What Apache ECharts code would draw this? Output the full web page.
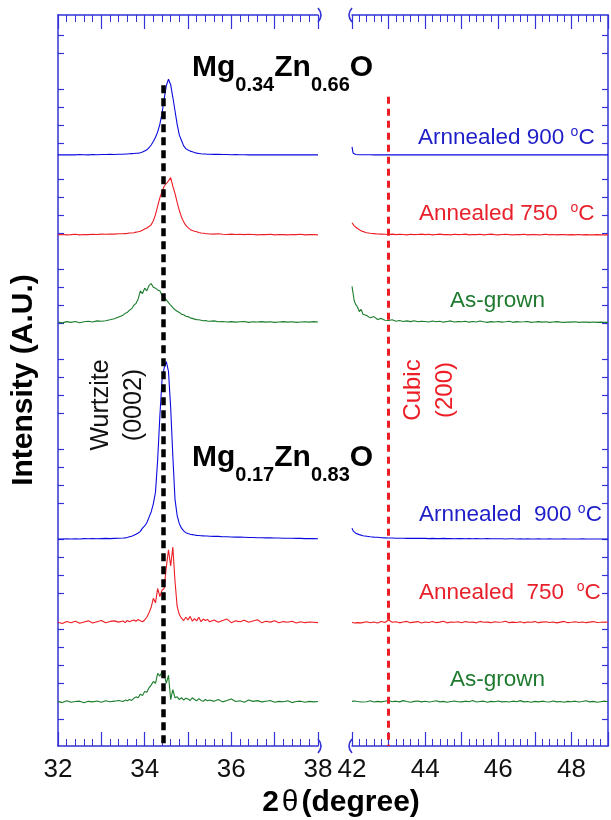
<!DOCTYPE html>
<html>
<head>
<meta charset="utf-8">
<script src="https://cdn.jsdelivr.net/npm/echarts@6/dist/echarts.min.js"></script>
<style>html,body{margin:0;padding:0;background:#fff;}#c{width:611px;height:820px;}</style>
</head>
<body>
<div id="c"></div>
<script>
// ---------- DATA ----------
// 2θ sampling (degrees), left panel 32–38
const thetaLeft = [
  32.0,32.1,32.2,32.3,32.4,32.5,32.6,32.7,32.8,32.9,33.0,33.1,33.2,33.3,33.4,
  33.5,33.55,33.6,33.65,33.7,33.75,33.8,33.85,33.9,33.95,34.0,34.05,34.1,34.15,34.2,34.25,34.3,34.35,34.4,34.45,
  34.5,34.55,34.6,34.65,34.7,34.75,34.8,34.85,34.9,34.95,35.0,35.05,35.1,35.15,35.2,35.25,35.3,35.35,35.4,35.45,
  35.5,35.6,35.7,35.8,35.9,36.0,36.1,36.2,36.3,36.4,36.5,36.6,36.7,36.8,36.9,37.0,37.1,37.2,37.3,37.4,37.5,37.6,37.7,37.8,37.9,38.0
];
// 2θ sampling (degrees), right panel 42–49
const thetaRight = [
  42.0,42.03,42.06,42.1,42.15,42.2,42.25,42.3,
  42.4,42.5,42.6,42.7,42.8,42.9,
  43.0,43.1,43.2,43.3,43.4,43.5,43.6,43.7,43.8,43.9,
  44.0,44.1,44.2,44.3,44.4,44.5,44.6,44.7,44.8,44.9,
  45.0,45.1,45.2,45.3,45.4,45.5,45.6,45.7,45.8,45.9,
  46.0,46.1,46.2,46.3,46.4,46.5,46.6,46.7,46.8,46.9,
  47.0,47.1,47.2,47.3,47.4,47.5,47.6,47.7,47.8,47.9,
  48.0,48.1,48.2,48.3,48.4,48.5,48.6,48.7,48.8,48.9,
  49.0
];

// Intensities (A.U.) above each trace's own baseline
// Mg0.34Zn0.66O, annealed 900 °C
const mg34_900_left = [
  0.0,0.01,0.0,0.01,0.0,0.02,0.01,0.0,0.02,0.01,0.02,0.02,0.03,0.02,0.04,
  0.04,0.05,0.05,0.06,0.07,0.08,0.09,0.10,0.12,0.16,0.22,0.28,0.40,0.55,0.74,0.98,1.28,1.70,2.30,3.10,
  3.85,4.20,3.90,3.20,2.45,1.70,1.10,0.80,0.50,0.35,0.27,0.21,0.17,0.13,0.10,0.08,0.06,0.05,0.05,0.04,
  0.04,0.03,0.03,0.02,0.02,0.01,0.02,0.01,0.01,0.0,0.01,0.0,0.01,0.0,0.0,0.01,0.0,0.0,0.01,0.0,0.0,0.0,0.01,0.0,0.0,0.0
];
const mg34_900_right = [
  0.45,0.10,0.04,0.02,0.02,0.01,0.01,0.01,
  0.01,0.01,0.0,0.01,0.0,0.01,
  0.0,0.01,0.0,0.0,0.01,0.0,0.0,0.01,0.0,0.0,
  0.0,0.0,0.01,0.0,0.0,0.0,0.01,0.0,0.0,0.0,
  0.01,0.0,0.0,0.0,0.0,0.01,0.0,0.0,0.0,0.0,
  0.0,0.01,0.0,0.0,0.0,0.0,0.0,0.01,0.0,0.0,
  0.0,0.0,0.0,0.01,0.0,0.0,0.0,0.0,0.0,0.01,
  0.0,0.0,0.0,0.0,0.01,0.0,0.0,0.0,0.0,0.0,
  0.0
];
// Mg0.34Zn0.66O, annealed 750 °C
const mg34_750_left = [
  0.0,0.02,0.0,0.01,0.03,0.0,0.02,0.01,0.03,0.02,0.04,0.03,0.05,0.04,0.06,
  0.06,0.07,0.08,0.10,0.10,0.12,0.15,0.17,0.20,0.26,0.32,0.38,0.46,0.56,0.78,1.12,1.60,2.05,2.40,2.70,
  2.85,3.00,3.18,2.70,2.30,1.80,1.35,0.98,0.72,0.52,0.40,0.30,0.24,0.20,0.17,0.13,0.10,0.09,0.07,0.06,
  0.05,0.04,0.06,0.03,0.02,0.04,0.02,0.03,0.01,0.03,0.02,0.0,0.02,0.01,0.03,0.0,0.02,0.01,0.0,0.02,0.01,0.03,0.0,0.01,0.02,0.0
];
const mg34_750_right = [
  0.67,0.58,0.50,0.42,0.35,0.28,0.22,0.18,
  0.12,0.09,0.07,0.05,0.04,0.03,
  0.02,0.04,0.01,0.03,0.02,0.0,0.03,0.01,0.02,0.04,
  0.01,0.03,0.0,0.02,0.04,0.01,0.02,0.0,0.03,0.01,
  0.02,0.04,0.0,0.02,0.01,0.03,0.0,0.02,0.04,0.01,
  0.0,0.02,0.03,0.01,0.0,0.02,0.01,0.03,0.0,0.01,
  0.02,0.0,0.01,0.03,0.0,0.02,0.0,0.01,0.02,0.0,
  0.01,0.0,0.02,0.0,0.01,0.0,0.0,0.01,0.0,0.0,
  0.0
];
// Mg0.34Zn0.66O, as-grown
const mg34_asg_left = [
  0.02,-0.03,0.04,0.0,0.05,-0.02,0.03,0.06,0.02,0.08,0.06,0.09,0.14,0.20,0.30,
  0.40,0.50,0.55,0.68,0.75,0.95,1.05,1.30,1.75,1.60,1.90,1.75,2.05,2.15,1.95,1.90,1.80,1.75,1.50,1.38,
  1.25,1.10,0.95,0.82,0.70,0.62,0.55,0.45,0.42,0.34,0.32,0.25,0.22,0.18,0.15,0.14,0.12,0.09,0.10,0.07,
  0.06,0.08,0.03,0.05,0.02,0.04,0.01,0.03,0.05,0.0,0.03,0.02,0.04,0.01,0.03,0.0,0.02,0.04,0.01,0.03,0.0,0.02,0.03,0.01,0.04,0.02
];
const mg34_asg_right = [
  2.00,1.60,1.20,1.00,0.85,0.60,0.72,0.45,
  0.38,0.25,0.32,0.16,0.22,0.12,
  0.10,0.14,0.06,0.10,0.05,0.08,0.04,0.09,0.03,0.06,
  0.05,0.02,0.07,0.03,0.06,0.01,0.05,0.08,0.02,0.04,
  0.03,0.06,0.01,0.05,0.02,0.07,0.03,0.0,0.04,0.02,
  0.05,0.01,0.03,0.06,0.0,0.04,0.02,0.03,0.05,0.0,
  0.02,0.04,0.01,0.03,0.0,0.02,0.04,0.01,0.0,0.02,
  0.01,0.03,0.0,0.02,0.01,0.0,0.02,0.0,0.01,0.0,
  0.0
];
// Mg0.17Zn0.83O, annealed 900 °C
const mg17_900_left = [
  0.0,0.0,0.01,0.0,0.01,0.0,0.02,0.01,0.02,0.01,0.02,0.03,0.02,0.03,0.04,
  0.05,0.06,0.08,0.12,0.15,0.20,0.26,0.33,0.42,0.60,0.72,0.90,1.20,1.50,1.95,2.60,4.40,6.80,8.80,9.50,
  9.85,9.30,7.30,4.60,2.20,1.30,0.85,0.60,0.45,0.35,0.30,0.26,0.24,0.22,0.20,0.19,0.18,0.17,0.16,0.16,
  0.15,0.14,0.14,0.12,0.12,0.11,0.10,0.10,0.09,0.08,0.08,0.07,0.07,0.06,0.06,0.05,0.05,0.04,0.04,0.04,0.03,0.03,0.02,0.02,0.02,0.01
];
const mg17_900_right = [
  0.60,0.45,0.38,0.32,0.28,0.24,0.20,0.18,
  0.15,0.12,0.10,0.09,0.07,0.06,
  0.05,0.05,0.04,0.04,0.04,0.03,0.04,0.03,0.03,0.03,
  0.03,0.02,0.03,0.02,0.02,0.03,0.02,0.02,0.01,0.02,
  0.02,0.01,0.02,0.01,0.02,0.01,0.01,0.02,0.01,0.01,
  0.01,0.01,0.0,0.01,0.01,0.0,0.01,0.0,0.01,0.0,
  0.0,0.01,0.0,0.0,0.01,0.0,0.0,0.0,0.01,0.0,
  0.0,0.0,0.0,0.01,0.0,0.0,0.0,0.0,0.0,0.0,
  0.0
];
// Mg0.17Zn0.83O, annealed 750 °C
const mg17_750_left = [
  0.02,-0.05,0.06,0.0,0.08,-0.03,0.04,0.10,-0.02,0.05,0.12,0.0,0.07,0.10,0.03,
  0.09,0.0,0.12,0.05,0.10,0.15,0.08,0.18,0.10,0.05,0.15,0.30,0.55,0.85,1.35,1.10,1.90,1.45,1.80,1.90,
  3.10,4.05,3.15,4.20,2.30,0.90,0.45,0.25,0.12,0.30,0.15,0.35,0.08,0.22,0.10,0.30,0.05,0.20,0.12,0.18,
  0.05,0.15,0.02,0.12,0.20,0.0,0.10,0.05,0.14,0.02,0.09,0.16,0.0,0.08,0.03,0.11,0.0,0.06,0.02,0.08,-0.02,0.05,0.0,0.04,0.02,0.0
];
const mg17_750_right = [
  0.02,0.05,-0.02,0.04,0.0,0.06,-0.01,0.03,
  0.05,0.0,0.04,-0.02,0.06,0.01,
  0.15,0.02,0.05,-0.01,0.04,0.07,0.0,0.03,0.06,-0.02,
  0.04,0.01,0.06,0.0,0.03,0.08,-0.01,0.04,0.02,0.05,
  0.0,0.06,0.02,0.04,-0.01,0.07,0.02,0.03,0.0,0.05,
  0.02,0.04,0.08,0.0,0.03,0.01,0.05,-0.01,0.04,0.02,
  0.06,0.0,0.03,0.05,0.01,0.04,-0.01,0.03,0.07,0.0,
  0.02,0.05,0.01,0.04,0.0,0.03,0.06,0.01,0.02,0.04,
  0.02
];
// Mg0.17Zn0.83O, as-grown
const mg17_asg_left = [
  0.05,-0.02,0.08,0.0,0.04,0.06,-0.03,0.05,0.02,0.07,0.0,0.08,0.03,0.06,0.10,
  0.04,0.12,0.08,0.15,0.10,0.22,0.30,0.25,0.45,0.38,0.60,0.55,0.80,0.95,1.15,1.05,1.60,1.45,1.70,1.55,
  1.05,1.50,0.15,0.70,0.25,0.30,0.15,0.25,0.12,0.22,0.18,0.10,0.25,0.15,0.08,0.20,0.10,0.05,0.15,0.08,
  0.12,0.05,0.15,0.02,0.10,0.18,0.04,0.08,0.0,0.12,0.05,0.09,0.02,0.06,0.10,0.0,0.05,0.03,0.08,-0.02,0.04,0.06,0.0,0.05,0.02,0.04
];
const mg17_asg_right = [
  0.05,0.02,0.07,0.0,0.04,0.06,0.01,0.05,
  0.03,0.08,0.01,0.05,0.02,0.06,
  0.10,0.03,0.06,0.02,0.09,0.04,0.0,0.05,0.07,0.02,
  0.06,0.01,0.04,0.08,0.02,0.05,0.0,0.04,0.07,0.03,
  0.02,0.06,0.03,0.10,0.01,0.04,0.06,0.0,0.05,0.03,
  0.07,0.02,0.04,0.01,0.06,0.03,0.09,0.02,0.04,0.0,
  0.05,0.02,0.06,0.03,0.01,0.07,0.02,0.04,0.0,0.05,
  0.03,0.06,0.01,0.04,0.08,0.02,0.05,0.0,0.03,0.06,
  0.03
];

// vertical stacking offsets (A.U.) for each trace, top to bottom
const traceOffsets = [32.33, 27.89, 23.03, 11.0, 6.35, 1.93];
const traceNames = ['Mg0.34 900', 'Mg0.34 750', 'Mg0.34 as-grown', 'Mg0.17 900', 'Mg0.17 750', 'Mg0.17 as-grown'];
const leftValues = [mg34_900_left, mg34_750_left, mg34_asg_left, mg17_900_left, mg17_750_left, mg17_asg_left];
const rightValues = [mg34_900_right, mg34_750_right, mg34_asg_right, mg17_900_right, mg17_750_right, mg17_asg_right];

// axis tick values
const yTickValues = [1,3,4,5,6,8,9,10,11,13,14,15,16,18,19,20,21,23,24,25,26,28,29,30,31,33,34,35,36,38,39];
const xLabelsShown = [32, 34, 36, 38, 42, 44, 46, 48];

// reference lines: [2θ, top of line (A.U.)]
const wurtziteLine = [34.42, 36.2];
const cubicLine = [43.0, 35.56];

// formula texts: [text, isSubscript]
const formulaTop = [['Mg', 0], ['0.34', 1], ['Zn', 0], ['0.66', 1], ['O', 0]];
const formulaBottom = [['Mg', 0], ['0.17', 1], ['Zn', 0], ['0.83', 1], ['O', 0]];

// ---------- CHART ----------
leftValues.forEach((a, i) => { if (a.length !== thetaLeft.length) throw new Error('left len ' + i + ' ' + a.length); });
rightValues.forEach((a, i) => { if (a.length !== thetaRight.length) throw new Error('right len ' + i + ' ' + a.length); });

const FONT = "'Liberation Sans', Arial, Helvetica, sans-serif";
const AXIS = '#3333d6';
const traceColors = ['#0a0ae0', '#ee1c24', '#1b7d2b', '#0a0ae0', '#ee1c24', '#1b7d2b'];
const YMIN = -0.5, YMAX = 40.1;

function xAxisDef(gridIndex, pos, min, max, labels) {
  return {
    type: 'value', gridIndex, position: pos, min, max, interval: 1,
    axisLine: { show: true, onZero: false, lineStyle: { color: AXIS, width: 1.5 } },
    axisTick: { show: true, inside: true, length: 14, lineStyle: { color: AXIS, width: 1.2 } },
    minorTick: { show: true, splitNumber: 5, length: 7, lineStyle: { color: AXIS, width: 1 } },
    splitLine: { show: false }, minorSplitLine: { show: false },
    axisLabel: labels ? {
      show: true, margin: 11, fontSize: 26, fontFamily: FONT, color: '#111',
      formatter: v => xLabelsShown.includes(v) ? String(v) : ''
    } : { show: false }
  };
}
function yAxisDef(gridIndex, pos) {
  return {
    type: 'value', gridIndex, position: pos, min: YMIN, max: YMAX,
    axisLine: { show: true, lineStyle: { color: AXIS, width: 1.5 } },
    axisTick: { show: true, inside: true, length: 6, customValues: yTickValues, lineStyle: { color: AXIS, width: 1.2 } },
    axisLabel: { show: false },
    splitLine: { show: false }
  };
}

const series = [];
leftValues.forEach((vals, i) => {
  series.push({
    name: traceNames[i] + ' L', type: 'line', xAxisIndex: 0, yAxisIndex: 0,
    data: thetaLeft.map((x, k) => [x, vals[k] + traceOffsets[i]]),
    showSymbol: false, symbol: 'none', lineStyle: { color: traceColors[i], width: 1.1 },
    itemStyle: { color: traceColors[i] }, silent: true, z: 2
  });
});
rightValues.forEach((vals, i) => {
  series.push({
    name: traceNames[i] + ' R', type: 'line', xAxisIndex: 2, yAxisIndex: 1,
    data: thetaRight.map((x, k) => [x, vals[k] + traceOffsets[i]]),
    showSymbol: false, symbol: 'none', lineStyle: { color: traceColors[i], width: 1.1 },
    itemStyle: { color: traceColors[i] }, silent: true, z: 2
  });
});
series[0].markLine = {
  silent: true, symbol: 'none', label: { show: false }, z: 10,
  lineStyle: { color: '#000', width: 4.5, type: [8, 5] },
  data: [[{ coord: [wurtziteLine[0], wurtziteLine[1]] }, { coord: [wurtziteLine[0], YMIN] }]]
};
series[6].markLine = {
  silent: true, symbol: 'none', label: { show: false }, z: 10,
  lineStyle: { color: '#ee1c24', width: 3, type: [7, 5] },
  data: [[{ coord: [cubicLine[0], cubicLine[1]] }, { coord: [cubicLine[0], YMIN] }]]
};

const mainRich = (color) => ({
  t: { fontSize: 22.5, fontFamily: FONT, lineHeight: 26, fill: color },
  o: { fontSize: 14, fontFamily: FONT, lineHeight: 14, verticalAlign: 'top', fill: color }
});
const BLUE_T = '#1e1ec8', RED_T = '#e8202a', GREEN_T = '#1f7a30';

// formula with subscripts: separate text pieces placed along a baseline
const measureCtx = document.createElement('canvas').getContext('2d');
function formulaElements(x0, baseline, parts) {
  const out = [];
  let x = x0;
  parts.forEach(([txt, sub]) => {
    const size = sub ? 20 : 30;
    const font = 'bold ' + size + 'px ' + FONT;
    measureCtx.font = font;
    const w = measureCtx.measureText(txt).width;
    const base = sub ? baseline + 14 : baseline;
    out.push({ type: 'text', z: 20, silent: true,
      style: { text: txt, x: x, y: base - 0.35 * size, font: font, fill: '#000', align: 'left', verticalAlign: 'middle' } });
    x += w;
  });
  return out;
}

function label(left, top, txt, color) {
  return { type: 'text', left, top, z: 20, silent: true, style: { text: txt, rich: mainRich(color) } };
}
function brk(x, y, dir) {
  return { type: 'bezierCurve', z: 20, silent: true,
    shape: { x1: x, y1: y - 7, cpx1: x + dir * 6, cpy1: y, x2: x, y2: y + 7 },
    style: { stroke: AXIS, lineWidth: 1.6, fill: null } };
}

const option = {
  backgroundColor: '#fff',
  animation: false,
  grid: [
    { left: 58, top: 15, width: 260, height: 731, containLabel: false },
    { left: 352, top: 15, width: 258.5, height: 731, containLabel: false }
  ],
  xAxis: [
    xAxisDef(0, 'bottom', 32, 38, true),
    xAxisDef(0, 'top', 32, 38, false),
    xAxisDef(1, 'bottom', 42, 49, true),
    xAxisDef(1, 'top', 42, 49, false)
  ],
  yAxis: [yAxisDef(0, 'left'), yAxisDef(1, 'right')],
  series,
  graphic: [
    ...formulaElements(192, 78, formulaTop),
    ...formulaElements(192, 468, formulaBottom),
    label(418, 125, '{t|Arnnealed 900 }{o|o}{t|C}', BLUE_T),
    label(419, 201, '{t|Annealed 750  }{o|o}{t|C}', RED_T),
    label(450, 289, '{t|As-grown}', GREEN_T),
    label(419, 502, '{t|Arnnealed  900 }{o|o}{t|C}', BLUE_T),
    label(419, 580, '{t|Annealed  750  }{o|o}{t|C}', RED_T),
    label(450, 668, '{t|As-grown}', GREEN_T),
    { type: 'text', x: 118, y: 405, rotation: Math.PI / 2, z: 20, silent: true,
      style: { text: 'Wurtzite\n(0002)', fontSize: 25, fontFamily: FONT, lineHeight: 33, align: 'center', verticalAlign: 'middle', fill: '#111' } },
    { type: 'text', x: 429, y: 390, rotation: Math.PI / 2, z: 20, silent: true,
      style: { text: 'Cubic\n(200)', fontSize: 24, fontFamily: FONT, lineHeight: 32, align: 'center', verticalAlign: 'middle', fill: '#ee1c24' } },
    { type: 'text', x: 24, y: 380, rotation: Math.PI / 2, z: 20, silent: true,
      style: { text: 'Intensity (A.U.)', fontSize: 30, fontWeight: 'bold', fontFamily: FONT, align: 'center', verticalAlign: 'middle', fill: '#000' } },
    { type: 'text', x: 341, y: 803, z: 20, silent: true,
      style: { text: '{b|2}{t|θ}{b|(degree)}', align: 'center', verticalAlign: 'middle',
        rich: { b: { fontSize: 30, fontWeight: 'bold', fontFamily: FONT, fill: '#000' },
                t: { fontSize: 30, fontFamily: FONT, fill: '#000', padding: [0, 3, 0, 3] } } } },
    brk(318, 15, 1), brk(352, 15, -1), brk(318, 746, 1), brk(352, 746, -1)
  ]
};

const chart = echarts.init(document.getElementById('c'), null, { renderer: 'canvas' });
chart.setOption(option);
</script>
</body>
</html>
